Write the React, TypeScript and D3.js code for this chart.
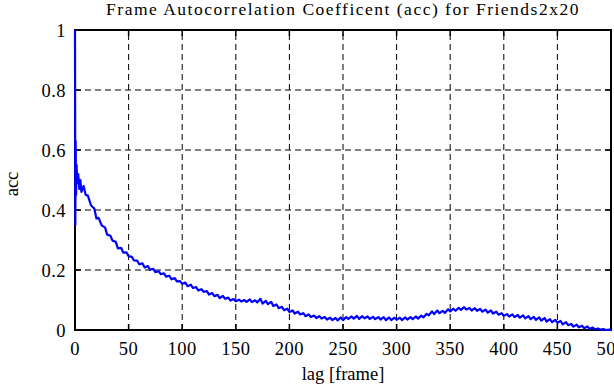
import { useEffect, useRef } from "react";
import * as d3 from "d3";

const title = "Frame Autocorrelation Coefficent (acc) for Friends2x20";
const xLabel = "lag [frame]";
const yLabel = "acc";
const xTicks = [0, 50, 100, 150, 200, 250, 300, 350, 400, 450, 500];
const yTicks = [0, 0.2, 0.4, 0.6, 0.8, 1];

// acc values (lag in frames)
const lags = [
  0, 0.3, 0.6, 1, 1.5, 2, 3, 4, 5, 6, 8, 10, 12, 15, 18, 20, 22, 25, 28, 30,
  33, 35, 38, 40, 43, 45, 48, 50, 53, 55, 58, 60, 63, 65, 68, 70, 73, 75, 78, 80,
  83, 85, 88, 90, 93, 95, 98, 100, 103, 105, 108, 110, 113, 115, 118, 120, 123, 125, 128, 130,
  133, 135, 138, 140, 143, 145, 148, 150, 153, 155, 158, 160, 163, 165, 168, 170, 173, 175, 178, 180,
  183, 185, 188, 190, 193, 195, 198, 200, 203, 205, 208, 210, 213, 215, 218, 220, 223, 225, 228, 230,
  233, 235, 238, 240, 243, 245, 248, 250, 253, 255, 258, 260, 263, 265, 268, 270, 273, 275, 278, 280,
  283, 285, 288, 290, 293, 295, 298, 300, 303, 305, 308, 310, 313, 315, 318, 320, 323, 325, 328, 330,
  333, 335, 338, 340, 343, 345, 348, 350, 353, 355, 358, 360, 363, 365, 368, 370, 373, 375, 378, 380,
  383, 385, 388, 390, 393, 395, 398, 400, 403, 405, 408, 410, 413, 415, 418, 420, 423, 425, 428, 430,
  433, 435, 438, 440, 443, 445, 448, 450, 453, 455, 458, 460, 463, 465, 468, 470, 473, 475, 478, 480,
  483, 485, 488, 490, 493, 495, 498, 500,
];
const acc = [
  1.0, 0.35, 0.63, 0.45, 0.55, 0.49, 0.52, 0.47, 0.5, 0.46, 0.48, 0.45, 0.448, 0.415, 0.405, 0.372, 0.374, 0.348, 0.342, 0.318,
  0.314, 0.298, 0.294, 0.272, 0.274, 0.258, 0.259, 0.246, 0.244, 0.232, 0.231, 0.219, 0.222, 0.208, 0.213, 0.201, 0.204, 0.193, 0.196, 0.186,
  0.189, 0.178, 0.181, 0.169, 0.173, 0.162, 0.163, 0.154, 0.158, 0.146, 0.151, 0.14, 0.143, 0.132, 0.136, 0.127, 0.13, 0.118, 0.123, 0.113,
  0.117, 0.106, 0.114, 0.104, 0.108, 0.098, 0.103, 0.096, 0.101, 0.095, 0.1, 0.094, 0.102, 0.093, 0.099, 0.092, 0.104, 0.088, 0.097, 0.086,
  0.094, 0.08, 0.085, 0.073, 0.077, 0.066, 0.071, 0.06, 0.065, 0.055, 0.061, 0.052, 0.056, 0.046, 0.052, 0.043, 0.048, 0.04, 0.046, 0.038,
  0.043, 0.035, 0.041, 0.033, 0.04, 0.032, 0.042, 0.033, 0.043, 0.037, 0.045, 0.038, 0.047, 0.037, 0.046, 0.039, 0.045, 0.037, 0.044, 0.036,
  0.043, 0.035, 0.043, 0.033, 0.042, 0.033, 0.041, 0.034, 0.041, 0.033, 0.042, 0.035, 0.043, 0.036, 0.045, 0.038, 0.048, 0.042, 0.054, 0.049,
  0.062, 0.053, 0.065, 0.056, 0.064, 0.057, 0.069, 0.062, 0.071, 0.064, 0.074, 0.067, 0.076, 0.068, 0.073, 0.065, 0.073, 0.064, 0.07, 0.061,
  0.068, 0.058, 0.065, 0.055, 0.061, 0.051, 0.056, 0.047, 0.053, 0.045, 0.052, 0.043, 0.05, 0.041, 0.049, 0.039, 0.046, 0.036, 0.044, 0.034,
  0.042, 0.031, 0.04, 0.028, 0.036, 0.026, 0.034, 0.024, 0.03, 0.019, 0.026, 0.016, 0.02, 0.011, 0.018, 0.009, 0.014, 0.006, 0.012, 0.004,
  0.008, 0.002, 0.005, 0.001, 0.003, 0.0, 0.001, 0.0,
];

const App = () => {
  const svgRef = useRef<SVGSVGElement>(null);

  useEffect(() => {
    const svg = d3.select(svgRef.current);
    svg.selectAll("*").remove();

    const width = 614;
    const height = 385;
    const margin = { top: 30, right: 3, bottom: 55, left: 75 };
    const font = "'Liberation Serif', 'Times New Roman', serif";

    const x = d3.scaleLinear().domain([0, 500]).range([margin.left, width - margin.right]);
    const y = d3.scaleLinear().domain([0, 1]).range([height - margin.bottom, margin.top]);

    svg.append("rect").attr("width", width).attr("height", height).attr("fill", "#fff");

    const g = svg.append("g");

    // grid
    xTicks.slice(1, -1).forEach((t) => {
      g.append("line")
        .attr("x1", x(t)).attr("x2", x(t))
        .attr("y1", y(0)).attr("y2", y(1))
        .attr("stroke", "#000").attr("stroke-width", 1)
        .attr("stroke-dasharray", "6,4");
    });
    yTicks.slice(1, -1).forEach((t) => {
      g.append("line")
        .attr("x1", x(0)).attr("x2", x(500))
        .attr("y1", y(t)).attr("y2", y(t))
        .attr("stroke", "#000").attr("stroke-width", 1)
        .attr("stroke-dasharray", "6,4");
    });

    // inner tick marks on all sides
    const tl = 6;
    xTicks.forEach((t) => {
      g.append("line").attr("x1", x(t)).attr("x2", x(t)).attr("y1", y(0)).attr("y2", y(0) - tl)
        .attr("stroke", "#000").attr("stroke-width", 1.5);
      g.append("line").attr("x1", x(t)).attr("x2", x(t)).attr("y1", y(1)).attr("y2", y(1) + tl)
        .attr("stroke", "#000").attr("stroke-width", 1.5);
    });
    yTicks.forEach((t) => {
      g.append("line").attr("x1", x(0)).attr("x2", x(0) + tl).attr("y1", y(t)).attr("y2", y(t))
        .attr("stroke", "#000").attr("stroke-width", 1.5);
      g.append("line").attr("x1", x(500)).attr("x2", x(500) - tl).attr("y1", y(t)).attr("y2", y(t))
        .attr("stroke", "#000").attr("stroke-width", 1.5);
    });

    // frame
    g.append("rect")
      .attr("x", x(0)).attr("y", y(1))
      .attr("width", x(500) - x(0)).attr("height", y(0) - y(1))
      .attr("fill", "none").attr("stroke", "#000").attr("stroke-width", 2);

    // data line (drawn over the frame, as in the original)
    const line = d3.line<number>()
      .x((_, i) => x(lags[i]))
      .y((d) => y(d));
    g.append("path")
      .datum(acc)
      .attr("d", line)
      .attr("fill", "none")
      .attr("stroke", "#0000ff")
      .attr("stroke-width", 2.2)
      .attr("stroke-linejoin", "round");

    // tick labels
    xTicks.forEach((t) => {
      g.append("text")
        .attr("x", x(t)).attr("y", y(0) + 25)
        .attr("text-anchor", "middle")
        .attr("font-family", font).attr("font-size", 18.5)
        .attr("letter-spacing", 0.5)
        .text(String(t));
    });
    yTicks.forEach((t) => {
      g.append("text")
        .attr("x", x(0) - 9).attr("y", y(t) + 7)
        .attr("text-anchor", "end")
        .attr("font-family", font).attr("font-size", 18.5)
        .attr("letter-spacing", 0.5)
        .text(String(t));
    });

    // titles
    svg.append("text")
      .attr("x", (x(0) + x(500)) / 2).attr("y", 15)
      .attr("text-anchor", "middle")
      .attr("font-family", font).attr("font-size", 17.5)
      .attr("letter-spacing", 1.5)
      .text(title);
    svg.append("text")
      .attr("x", (x(0) + x(500)) / 2).attr("y", 380)
      .attr("text-anchor", "middle")
      .attr("font-family", font).attr("font-size", 18.5)
      .text(xLabel);
    svg.append("text")
      .attr("transform", `translate(18,${(y(0) + y(1)) / 2 + 4}) rotate(-90)`)
      .attr("text-anchor", "middle")
      .attr("font-family", font).attr("font-size", 18.5)
      .text(yLabel);
  }, []);

  return (
    <svg
      ref={svgRef}
      width={614}
      height={385}
      style={{ position: "absolute", left: 0, top: 0, display: "block" }}
    />
  );
};

export default App;
